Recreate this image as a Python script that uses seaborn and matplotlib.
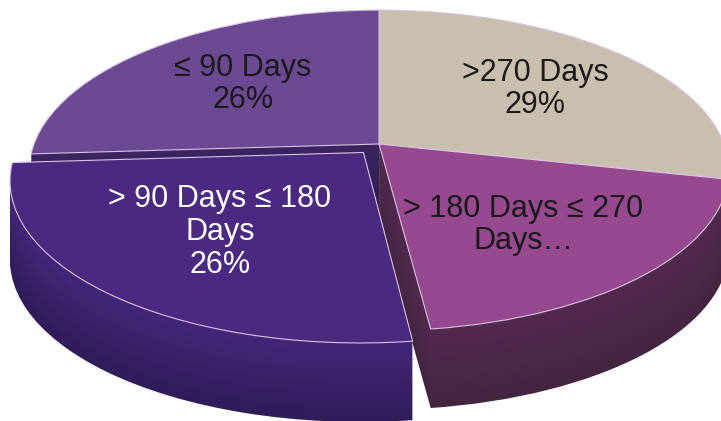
import numpy as np
import matplotlib
matplotlib.use("Agg")
import matplotlib.pyplot as plt
from matplotlib.transforms import Transform
import seaborn as sns

# data
categories = [">270 Days", "> 180 Days ≤ 270 Days", "> 90 Days ≤ 180 Days", "≤ 90 Days"]
shares = [28.5, 19.5, 26, 26]
display_labels = [">270 Days\n29%", "> 180 Days ≤ 270\nDays…", "> 90 Days ≤ 180\nDays\n26%", "≤ 90 Days\n26%"]
explode = [0, 0, 0.07, 0]

# style
top_colors = ["#c9bfae", "#96498f", "#4a2a80", "#6c4993"]
side_start = ["#8f8778", "#52294f", "#44267a", "#3a2560"]
side_end = ["#6f685c", "#43253f", "#2f1c58", "#2a1c4c"]
label_colors = ["#1a1a1a", "#1a1a1a", "white", "#1a1a1a"]
label_pos = [(535, 89), (523, 225), (220, 232), (243, 84)]
DEPTH = 79
STEP = 2


class Perspective(Transform):
    input_dims = 2
    output_dims = 2
    is_separable = False
    has_inverse = False

    def __init__(self, drop=0.0):
        super().__init__()
        self.drop = drop

    def transform_non_affine(self, values):
        v = np.asarray(values, dtype=float)
        w = 1 + 0.1647 * v[:, 1]
        return np.column_stack([379 + 345 * v[:, 0] / w, 144 - 156 * v[:, 1] / w + self.drop])


sns.set_theme(style="white")
plt.rcParams["font.family"] = ["Liberation Sans", "DejaVu Sans"]

fig = plt.figure(figsize=(7.21, 4.21), dpi=100)
ax = fig.add_axes([0, 0, 1, 1])

def draw_layer(colors, drop, edge=None, lw=0):
    wedges, _ = ax.pie(shares, explode=explode, colors=colors, startangle=90, counterclock=False,
                       wedgeprops=dict(linewidth=lw, edgecolor=edge if edge else "none"))
    for w in wedges:
        w.set_transform(Perspective(drop) + ax.transData)

drops = np.arange(DEPTH, 0, -STEP)
ramps = [sns.blend_palette([e, s], len(drops)) for s, e in zip(side_start, side_end)]
for i, d in enumerate(drops):
    draw_layer([r[i] for r in ramps], float(d))
draw_layer(top_colors, 0.0, edge="#d8c4e2", lw=0.8)

ax.set_aspect("auto")
ax.set_xlim(0, 721)
ax.set_ylim(421, 0)
ax.axis("off")

for text, (x, y), c in zip(display_labels, label_pos, label_colors):
    ax.text(x, y, text, ha="center", va="center", color=c, fontsize=22, linespacing=1.13)

fig.savefig("out.png", dpi=100, facecolor="white")
